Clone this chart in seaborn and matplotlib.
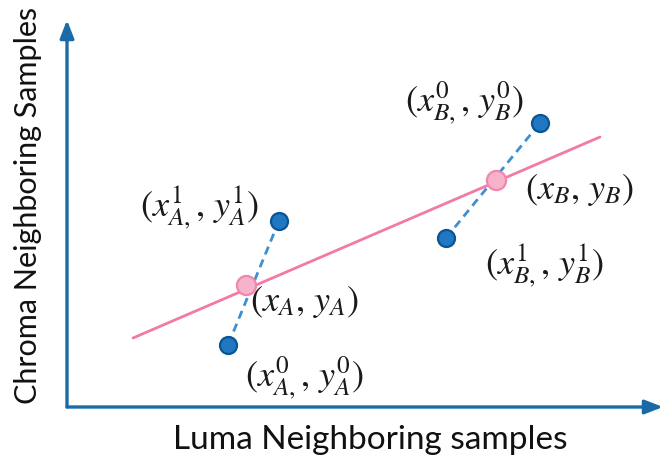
import matplotlib
matplotlib.use("Agg")
import matplotlib.pyplot as plt
import seaborn as sns
import pandas as pd

# Data (arbitrary units, origin at axes corner)
blue_x = [212, 161, 379, 473]
blue_y = [186, 62, 169, 284]
blue_pair = ["A", "A", "B", "B"]
pink_x = [179, 429]
pink_y = [122, 227]
fit_x = [66, 533]
fit_y = [69, 270]

labels = [r"$(x_{A,}^{1},\,y_{A}^{1})$", r"$(x_{A,}^{0},\,y_{A}^{0})$",
          r"$(x_{B,}^{1},\,y_{B}^{1})$", r"$(x_{B,}^{0},\,y_{B}^{0})$",
          r"$(x_{A},\,y_{A})$", r"$(x_{B},\,y_{B})$"]
label_x = [73, 178, 418, 338, 183, 458]
label_y = [200, 29, 142, 304, 105, 217]

xlabel = "Luma Neighboring samples"
ylabel = "Chroma Neighboring Samples"

sns.set_theme(style="white")
plt.rcParams["mathtext.fontset"] = "stix"

W, H = 661, 466
fig = plt.figure(figsize=(W / 100, H / 100), dpi=100)
ax = fig.add_axes([67 / W, (H - 407) / H, 594 / W, 385 / H])
ax.set_xlim(0, 594)
ax.set_ylim(0, 385)
for s in ax.spines.values():
    s.set_visible(False)
ax.set_xticks([])
ax.set_yticks([])

axis_color = "#1b6aa8"
ax.annotate("", xy=(596, 0), xytext=(0, 0), annotation_clip=False,
            arrowprops=dict(arrowstyle="-|>,head_length=0.9,head_width=0.35",
                            color=axis_color, lw=2.4, shrinkA=0, shrinkB=0))
ax.annotate("", xy=(0, 387), xytext=(0, 0), annotation_clip=False,
            arrowprops=dict(arrowstyle="-|>,head_length=0.9,head_width=0.35",
                            color=axis_color, lw=2.4, shrinkA=0, shrinkB=0))

df_fit = pd.DataFrame({"x": fit_x, "y": fit_y})
sns.lineplot(data=df_fit, x="x", y="y", ax=ax, color="#f27ba3", lw=2.0,
             sort=False, estimator=None)

df_blue = pd.DataFrame({"x": blue_x, "y": blue_y, "pair": blue_pair})
for p in ["A", "B"]:
    sub = df_blue[df_blue["pair"] == p]
    sns.lineplot(data=sub, x="x", y="y", ax=ax, color="#3f8fd2", lw=2.0,
                 linestyle=(0, (3.0, 2.0)), sort=False, estimator=None)

sns.scatterplot(data=df_blue, x="x", y="y", ax=ax, s=150, color="#1f78c1",
                edgecolor="#0b5592", linewidth=1.6, zorder=5)
df_pink = pd.DataFrame({"x": pink_x, "y": pink_y})
sns.scatterplot(data=df_pink, x="x", y="y", ax=ax, s=190, color="#f7b3cb",
                edgecolor="#f286ab", linewidth=1.6, zorder=6)

for t, lx, ly in zip(labels, label_x, label_y):
    ax.text(lx, ly, t, fontsize=26, color="#1a1a1a", ha="left", va="center")

ax.set_xlabel("")
ax.set_ylabel("")
fig.text(370 / W, 1 - 440 / H, xlabel, fontsize=24, family="Lato",
         ha="center", va="center", color="#111111")
fig.text(28 / W, 1 - 205 / H, ylabel, fontsize=22, family="Lato",
         ha="center", va="center", rotation=90, color="#111111")

fig.savefig("out.png", dpi=100)
